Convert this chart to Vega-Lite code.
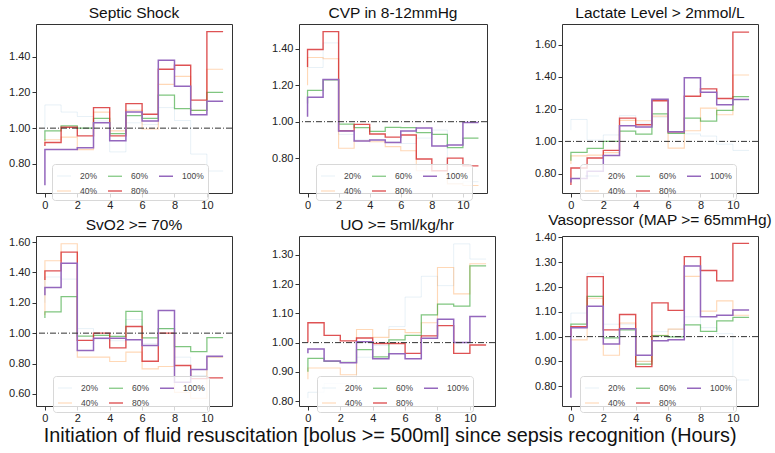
{
  "$schema": "https://vega.github.io/schema/vega-lite/v6.json",
  "padding": {"left": 8, "top": 5, "right": 0, "bottom": 0},
  "title": {"text": "Initiation of fluid resuscitation [bolus >= 500ml] since sepsis recognition (Hours)", "orient": "bottom", "fontSize": 19.8, "offset": 2, "anchor": "middle", "color": "#111"},
  "data": {"values": [
    {"p":"A","s":"20%","x":0,"y":0.98},{"p":"A","s":"20%","x":1,"y":1.13},{"p":"A","s":"20%","x":2,"y":1.09},{"p":"A","s":"20%","x":3,"y":1.065},{"p":"A","s":"20%","x":4,"y":1.04},{"p":"A","s":"20%","x":5,"y":0.867},{"p":"A","s":"20%","x":6,"y":1.03},{"p":"A","s":"20%","x":7,"y":1.02},{"p":"A","s":"20%","x":8,"y":1.115},{"p":"A","s":"20%","x":9,"y":1.043},{"p":"A","s":"20%","x":10,"y":0.855},{"p":"A","s":"20%","x":11,"y":0.76},
    {"p":"A","s":"40%","x":0,"y":0.92},{"p":"A","s":"40%","x":1,"y":0.935},{"p":"A","s":"40%","x":2,"y":0.95},{"p":"A","s":"40%","x":3,"y":0.88},{"p":"A","s":"40%","x":4,"y":1.09},{"p":"A","s":"40%","x":5,"y":0.985},{"p":"A","s":"40%","x":6,"y":1.10},{"p":"A","s":"40%","x":7,"y":0.995},{"p":"A","s":"40%","x":8,"y":1.245},{"p":"A","s":"40%","x":9,"y":1.29},{"p":"A","s":"40%","x":10,"y":1.10},{"p":"A","s":"40%","x":11,"y":1.33},
    {"p":"A","s":"60%","x":0,"y":0.93},{"p":"A","s":"60%","x":1,"y":0.985},{"p":"A","s":"60%","x":2,"y":1.013},{"p":"A","s":"60%","x":3,"y":1.0},{"p":"A","s":"60%","x":4,"y":1.055},{"p":"A","s":"60%","x":5,"y":0.97},{"p":"A","s":"60%","x":6,"y":1.07},{"p":"A","s":"60%","x":7,"y":1.055},{"p":"A","s":"60%","x":8,"y":1.185},{"p":"A","s":"60%","x":9,"y":1.11},{"p":"A","s":"60%","x":10,"y":1.10},{"p":"A","s":"60%","x":11,"y":1.20},
    {"p":"A","s":"80%","x":0,"y":0.90},{"p":"A","s":"80%","x":1,"y":0.92},{"p":"A","s":"80%","x":2,"y":1.005},{"p":"A","s":"80%","x":3,"y":0.957},{"p":"A","s":"80%","x":4,"y":1.115},{"p":"A","s":"80%","x":5,"y":0.957},{"p":"A","s":"80%","x":6,"y":1.137},{"p":"A","s":"80%","x":7,"y":1.078},{"p":"A","s":"80%","x":8,"y":1.33},{"p":"A","s":"80%","x":9,"y":1.352},{"p":"A","s":"80%","x":10,"y":1.157},{"p":"A","s":"80%","x":11,"y":1.54},
    {"p":"A","s":"100%","x":0,"y":0.68},{"p":"A","s":"100%","x":1,"y":0.88},{"p":"A","s":"100%","x":2,"y":0.88},{"p":"A","s":"100%","x":3,"y":0.89},{"p":"A","s":"100%","x":4,"y":1.03},{"p":"A","s":"100%","x":5,"y":0.93},{"p":"A","s":"100%","x":6,"y":1.09},{"p":"A","s":"100%","x":7,"y":1.04},{"p":"A","s":"100%","x":8,"y":1.38},{"p":"A","s":"100%","x":9,"y":1.235},{"p":"A","s":"100%","x":10,"y":1.075},{"p":"A","s":"100%","x":11,"y":1.15},

    {"p":"B","s":"20%","x":0,"y":1.30},{"p":"B","s":"20%","x":1,"y":1.298},{"p":"B","s":"20%","x":2,"y":1.433},{"p":"B","s":"20%","x":3,"y":0.93},{"p":"B","s":"20%","x":4,"y":0.90},{"p":"B","s":"20%","x":5,"y":0.90},{"p":"B","s":"20%","x":6,"y":0.89},{"p":"B","s":"20%","x":7,"y":0.88},{"p":"B","s":"20%","x":8,"y":0.91},{"p":"B","s":"20%","x":9,"y":0.954},{"p":"B","s":"20%","x":10,"y":0.66},{"p":"B","s":"20%","x":11,"y":0.67},
    {"p":"B","s":"40%","x":0,"y":1.20},{"p":"B","s":"40%","x":1,"y":1.353},{"p":"B","s":"40%","x":2,"y":1.346},{"p":"B","s":"40%","x":3,"y":0.854},{"p":"B","s":"40%","x":4,"y":0.895},{"p":"B","s":"40%","x":5,"y":0.89},{"p":"B","s":"40%","x":6,"y":0.863},{"p":"B","s":"40%","x":7,"y":0.84},{"p":"B","s":"40%","x":8,"y":0.73},{"p":"B","s":"40%","x":9,"y":0.73},{"p":"B","s":"40%","x":10,"y":0.658},{"p":"B","s":"40%","x":11,"y":0.649},
    {"p":"B","s":"60%","x":0,"y":1.10},{"p":"B","s":"60%","x":1,"y":1.172},{"p":"B","s":"60%","x":2,"y":1.23},{"p":"B","s":"60%","x":3,"y":0.987},{"p":"B","s":"60%","x":4,"y":0.967},{"p":"B","s":"60%","x":5,"y":0.947},{"p":"B","s":"60%","x":6,"y":0.969},{"p":"B","s":"60%","x":7,"y":0.967},{"p":"B","s":"60%","x":8,"y":0.94},{"p":"B","s":"60%","x":9,"y":0.93},{"p":"B","s":"60%","x":10,"y":0.857},{"p":"B","s":"60%","x":11,"y":0.909},
    {"p":"B","s":"80%","x":0,"y":1.30},{"p":"B","s":"80%","x":1,"y":1.397},{"p":"B","s":"80%","x":2,"y":1.495},{"p":"B","s":"80%","x":3,"y":0.95},{"p":"B","s":"80%","x":4,"y":0.985},{"p":"B","s":"80%","x":5,"y":0.932},{"p":"B","s":"80%","x":6,"y":0.915},{"p":"B","s":"80%","x":7,"y":0.927},{"p":"B","s":"80%","x":8,"y":0.795},{"p":"B","s":"80%","x":9,"y":0.73},{"p":"B","s":"80%","x":10,"y":0.80},{"p":"B","s":"80%","x":11,"y":0.757},
    {"p":"B","s":"100%","x":0,"y":1.027},{"p":"B","s":"100%","x":1,"y":1.135},{"p":"B","s":"100%","x":2,"y":1.232},{"p":"B","s":"100%","x":3,"y":0.949},{"p":"B","s":"100%","x":4,"y":0.894},{"p":"B","s":"100%","x":5,"y":0.90},{"p":"B","s":"100%","x":6,"y":0.885},{"p":"B","s":"100%","x":7,"y":0.949},{"p":"B","s":"100%","x":8,"y":0.965},{"p":"B","s":"100%","x":9,"y":0.867},{"p":"B","s":"100%","x":10,"y":0.872},{"p":"B","s":"100%","x":11,"y":0.995},

    {"p":"C","s":"20%","x":0,"y":1.07},{"p":"C","s":"20%","x":1,"y":1.136},{"p":"C","s":"20%","x":2,"y":1.008},{"p":"C","s":"20%","x":3,"y":1.04},{"p":"C","s":"20%","x":4,"y":1.16},{"p":"C","s":"20%","x":5,"y":1.113},{"p":"C","s":"20%","x":6,"y":1.15},{"p":"C","s":"20%","x":7,"y":1.05},{"p":"C","s":"20%","x":8,"y":1.047},{"p":"C","s":"20%","x":9,"y":1.033},{"p":"C","s":"20%","x":10,"y":0.983},{"p":"C","s":"20%","x":11,"y":0.944},
    {"p":"C","s":"40%","x":0,"y":0.86},{"p":"C","s":"40%","x":1,"y":0.91},{"p":"C","s":"40%","x":2,"y":0.915},{"p":"C","s":"40%","x":3,"y":0.93},{"p":"C","s":"40%","x":4,"y":1.13},{"p":"C","s":"40%","x":5,"y":1.128},{"p":"C","s":"40%","x":6,"y":1.157},{"p":"C","s":"40%","x":7,"y":0.958},{"p":"C","s":"40%","x":8,"y":1.066},{"p":"C","s":"40%","x":9,"y":1.206},{"p":"C","s":"40%","x":10,"y":1.165},{"p":"C","s":"40%","x":11,"y":1.412},
    {"p":"C","s":"60%","x":0,"y":0.88},{"p":"C","s":"60%","x":1,"y":0.932},{"p":"C","s":"60%","x":2,"y":0.957},{"p":"C","s":"60%","x":3,"y":1.0},{"p":"C","s":"60%","x":4,"y":1.064},{"p":"C","s":"60%","x":5,"y":1.045},{"p":"C","s":"60%","x":6,"y":1.171},{"p":"C","s":"60%","x":7,"y":1.05},{"p":"C","s":"60%","x":8,"y":1.144},{"p":"C","s":"60%","x":9,"y":1.126},{"p":"C","s":"60%","x":10,"y":1.192},{"p":"C","s":"60%","x":11,"y":1.278},
    {"p":"C","s":"80%","x":0,"y":0.73},{"p":"C","s":"80%","x":1,"y":0.835},{"p":"C","s":"80%","x":2,"y":0.897},{"p":"C","s":"80%","x":3,"y":0.944},{"p":"C","s":"80%","x":4,"y":1.144},{"p":"C","s":"80%","x":5,"y":1.103},{"p":"C","s":"80%","x":6,"y":1.252},{"p":"C","s":"80%","x":7,"y":1.06},{"p":"C","s":"80%","x":8,"y":1.28},{"p":"C","s":"80%","x":9,"y":1.326},{"p":"C","s":"80%","x":10,"y":1.266},{"p":"C","s":"80%","x":11,"y":1.678},
    {"p":"C","s":"100%","x":0,"y":0.745},{"p":"C","s":"100%","x":1,"y":0.77},{"p":"C","s":"100%","x":2,"y":0.815},{"p":"C","s":"100%","x":3,"y":0.913},{"p":"C","s":"100%","x":4,"y":1.097},{"p":"C","s":"100%","x":5,"y":1.089},{"p":"C","s":"100%","x":6,"y":1.262},{"p":"C","s":"100%","x":7,"y":1.06},{"p":"C","s":"100%","x":8,"y":1.394},{"p":"C","s":"100%","x":9,"y":1.305},{"p":"C","s":"100%","x":10,"y":1.227},{"p":"C","s":"100%","x":11,"y":1.26},

    {"p":"D","s":"20%","x":0,"y":1.20},{"p":"D","s":"20%","x":1,"y":1.37},{"p":"D","s":"20%","x":2,"y":1.356},{"p":"D","s":"20%","x":3,"y":1.03},{"p":"D","s":"20%","x":4,"y":0.96},{"p":"D","s":"20%","x":5,"y":0.95},{"p":"D","s":"20%","x":6,"y":1.09},{"p":"D","s":"20%","x":7,"y":0.93},{"p":"D","s":"20%","x":8,"y":1.03},{"p":"D","s":"20%","x":9,"y":0.842},{"p":"D","s":"20%","x":10,"y":0.72},{"p":"D","s":"20%","x":11,"y":0.84},
    {"p":"D","s":"40%","x":0,"y":1.12},{"p":"D","s":"40%","x":1,"y":1.477},{"p":"D","s":"40%","x":2,"y":1.589},{"p":"D","s":"40%","x":3,"y":0.842},{"p":"D","s":"40%","x":4,"y":0.842},{"p":"D","s":"40%","x":5,"y":0.813},{"p":"D","s":"40%","x":6,"y":0.875},{"p":"D","s":"40%","x":7,"y":0.765},{"p":"D","s":"40%","x":8,"y":0.78},{"p":"D","s":"40%","x":9,"y":0.61},{"p":"D","s":"40%","x":10,"y":0.571},{"p":"D","s":"40%","x":11,"y":0.842},
    {"p":"D","s":"60%","x":0,"y":1.10},{"p":"D","s":"60%","x":1,"y":1.14},{"p":"D","s":"60%","x":2,"y":1.24},{"p":"D","s":"60%","x":3,"y":0.98},{"p":"D","s":"60%","x":4,"y":0.985},{"p":"D","s":"60%","x":5,"y":0.978},{"p":"D","s":"60%","x":6,"y":1.143},{"p":"D","s":"60%","x":7,"y":0.969},{"p":"D","s":"60%","x":8,"y":1.029},{"p":"D","s":"60%","x":9,"y":0.912},{"p":"D","s":"60%","x":10,"y":0.879},{"p":"D","s":"60%","x":11,"y":0.971},
    {"p":"D","s":"80%","x":0,"y":1.35},{"p":"D","s":"80%","x":1,"y":1.41},{"p":"D","s":"80%","x":2,"y":1.534},{"p":"D","s":"80%","x":3,"y":0.952},{"p":"D","s":"80%","x":4,"y":1.0},{"p":"D","s":"80%","x":5,"y":0.903},{"p":"D","s":"80%","x":6,"y":1.044},{"p":"D","s":"80%","x":7,"y":0.815},{"p":"D","s":"80%","x":8,"y":1.0},{"p":"D","s":"80%","x":9,"y":0.787},{"p":"D","s":"80%","x":10,"y":0.70},{"p":"D","s":"80%","x":11,"y":0.705},
    {"p":"D","s":"100%","x":0,"y":1.25},{"p":"D","s":"100%","x":1,"y":1.30},{"p":"D","s":"100%","x":2,"y":1.46},{"p":"D","s":"100%","x":3,"y":0.886},{"p":"D","s":"100%","x":4,"y":0.967},{"p":"D","s":"100%","x":5,"y":0.967},{"p":"D","s":"100%","x":6,"y":0.956},{"p":"D","s":"100%","x":7,"y":0.919},{"p":"D","s":"100%","x":8,"y":1.15},{"p":"D","s":"100%","x":9,"y":0.677},{"p":"D","s":"100%","x":10,"y":0.76},{"p":"D","s":"100%","x":11,"y":0.848},

    {"p":"E","s":"20%","x":0,"y":0.81},{"p":"E","s":"20%","x":1,"y":0.83},{"p":"E","s":"20%","x":2,"y":0.86},{"p":"E","s":"20%","x":3,"y":0.86},{"p":"E","s":"20%","x":4,"y":0.95},{"p":"E","s":"20%","x":5,"y":0.99},{"p":"E","s":"20%","x":6,"y":1.055},{"p":"E","s":"20%","x":7,"y":1.156},{"p":"E","s":"20%","x":8,"y":1.227},{"p":"E","s":"20%","x":9,"y":1.195},{"p":"E","s":"20%","x":10,"y":1.338},{"p":"E","s":"20%","x":11,"y":1.286},
    {"p":"E","s":"40%","x":0,"y":0.875},{"p":"E","s":"40%","x":1,"y":0.913},{"p":"E","s":"40%","x":2,"y":0.913},{"p":"E","s":"40%","x":3,"y":0.89},{"p":"E","s":"40%","x":4,"y":1.045},{"p":"E","s":"40%","x":5,"y":1.018},{"p":"E","s":"40%","x":6,"y":1.045},{"p":"E","s":"40%","x":7,"y":1.034},{"p":"E","s":"40%","x":8,"y":1.068},{"p":"E","s":"40%","x":9,"y":1.257},{"p":"E","s":"40%","x":10,"y":1.167},{"p":"E","s":"40%","x":11,"y":1.27},
    {"p":"E","s":"60%","x":0,"y":0.90},{"p":"E","s":"60%","x":1,"y":0.946},{"p":"E","s":"60%","x":2,"y":0.936},{"p":"E","s":"60%","x":3,"y":0.932},{"p":"E","s":"60%","x":4,"y":0.976},{"p":"E","s":"60%","x":5,"y":0.951},{"p":"E","s":"60%","x":6,"y":1.009},{"p":"E","s":"60%","x":7,"y":1.025},{"p":"E","s":"60%","x":8,"y":1.095},{"p":"E","s":"60%","x":9,"y":1.132},{"p":"E","s":"60%","x":10,"y":1.125},{"p":"E","s":"60%","x":11,"y":1.263},
    {"p":"E","s":"80%","x":0,"y":1.0},{"p":"E","s":"80%","x":1,"y":1.068},{"p":"E","s":"80%","x":2,"y":1.025},{"p":"E","s":"80%","x":3,"y":1.006},{"p":"E","s":"80%","x":4,"y":1.016},{"p":"E","s":"80%","x":5,"y":0.997},{"p":"E","s":"80%","x":6,"y":0.997},{"p":"E","s":"80%","x":7,"y":0.963},{"p":"E","s":"80%","x":8,"y":1.023},{"p":"E","s":"80%","x":9,"y":1.058},{"p":"E","s":"80%","x":10,"y":0.963},{"p":"E","s":"80%","x":11,"y":0.992},
    {"p":"E","s":"100%","x":0,"y":0.964},{"p":"E","s":"100%","x":1,"y":0.978},{"p":"E","s":"100%","x":2,"y":0.937},{"p":"E","s":"100%","x":3,"y":0.931},{"p":"E","s":"100%","x":4,"y":1.003},{"p":"E","s":"100%","x":5,"y":0.945},{"p":"E","s":"100%","x":6,"y":0.962},{"p":"E","s":"100%","x":7,"y":0.945},{"p":"E","s":"100%","x":8,"y":1.015},{"p":"E","s":"100%","x":9,"y":1.08},{"p":"E","s":"100%","x":10,"y":1.0},{"p":"E","s":"100%","x":11,"y":1.089},

    {"p":"F","s":"20%","x":0,"y":1.0},{"p":"F","s":"20%","x":1,"y":1.095},{"p":"F","s":"20%","x":2,"y":1.256},{"p":"F","s":"20%","x":3,"y":1.05},{"p":"F","s":"20%","x":4,"y":1.05},{"p":"F","s":"20%","x":5,"y":0.90},{"p":"F","s":"20%","x":6,"y":1.02},{"p":"F","s":"20%","x":7,"y":1.03},{"p":"F","s":"20%","x":8,"y":1.08},{"p":"F","s":"20%","x":9,"y":1.036},{"p":"F","s":"20%","x":10,"y":1.012},{"p":"F","s":"20%","x":11,"y":0.825},
    {"p":"F","s":"40%","x":0,"y":0.99},{"p":"F","s":"40%","x":1,"y":0.987},{"p":"F","s":"40%","x":2,"y":1.155},{"p":"F","s":"40%","x":3,"y":0.925},{"p":"F","s":"40%","x":4,"y":1.055},{"p":"F","s":"40%","x":5,"y":0.90},{"p":"F","s":"40%","x":6,"y":1.005},{"p":"F","s":"40%","x":7,"y":1.03},{"p":"F","s":"40%","x":8,"y":1.243},{"p":"F","s":"40%","x":9,"y":1.103},{"p":"F","s":"40%","x":10,"y":1.144},{"p":"F","s":"40%","x":11,"y":1.086},
    {"p":"F","s":"60%","x":0,"y":1.04},{"p":"F","s":"60%","x":1,"y":1.05},{"p":"F","s":"60%","x":2,"y":1.162},{"p":"F","s":"60%","x":3,"y":0.995},{"p":"F","s":"60%","x":4,"y":1.027},{"p":"F","s":"60%","x":5,"y":0.889},{"p":"F","s":"60%","x":6,"y":1.004},{"p":"F","s":"60%","x":7,"y":0.999},{"p":"F","s":"60%","x":8,"y":1.047},{"p":"F","s":"60%","x":9,"y":1.021},{"p":"F","s":"60%","x":10,"y":1.064},{"p":"F","s":"60%","x":11,"y":1.078},
    {"p":"F","s":"80%","x":0,"y":1.0},{"p":"F","s":"80%","x":1,"y":1.04},{"p":"F","s":"80%","x":2,"y":1.242},{"p":"F","s":"80%","x":3,"y":1.027},{"p":"F","s":"80%","x":4,"y":1.089},{"p":"F","s":"80%","x":5,"y":0.879},{"p":"F","s":"80%","x":6,"y":1.136},{"p":"F","s":"80%","x":7,"y":1.106},{"p":"F","s":"80%","x":8,"y":1.323},{"p":"F","s":"80%","x":9,"y":1.267},{"p":"F","s":"80%","x":10,"y":1.225},{"p":"F","s":"80%","x":11,"y":1.376},
    {"p":"F","s":"100%","x":0,"y":0.753},{"p":"F","s":"100%","x":1,"y":1.036},{"p":"F","s":"100%","x":2,"y":1.123},{"p":"F","s":"100%","x":3,"y":0.97},{"p":"F","s":"100%","x":4,"y":1.032},{"p":"F","s":"100%","x":5,"y":0.925},{"p":"F","s":"100%","x":6,"y":0.983},{"p":"F","s":"100%","x":7,"y":0.987},{"p":"F","s":"100%","x":8,"y":1.285},{"p":"F","s":"100%","x":9,"y":1.08},{"p":"F","s":"100%","x":10,"y":1.086},{"p":"F","s":"100%","x":11,"y":1.107}
  ]},
  "columns": 3,
  "spacing": {"column": 67, "row": 43},
  "bounds": "flush",
  "align": "each",
  "resolve": {"scale": {"color": "independent", "strokeWidth": "independent"}, "legend": {"color": "independent", "strokeWidth": "independent"}},
  "concat": [
    {
      "title": "Septic Shock", "width": 196, "height": 169,
      "layer": [
        {
          "transform": [{"filter": "datum.p === 'A'"}],
          "mark": {"type": "line", "interpolate": "step-before"},
          "encoding": {
            "x": {"field": "x", "type": "quantitative", "title": null, "scale": {"domain": [-0.55, 11.55], "nice": false, "zero": false}, "axis": {"values": [0, 2, 4, 6, 8, 10], "tickCount": 20, "format": "d"}},
            "y": {"field": "y", "type": "quantitative", "title": null, "scale": {"domain": [0.637, 1.583], "nice": false, "zero": false}, "axis": {"values": [0.8, 1.0, 1.2, 1.4], "tickCount": 20, "format": ".2f"}},
            "color": {"field": "s", "type": "nominal", "scale": {"domain": ["20%", "40%", "60%", "80%", "100%"], "range": ["rgba(31,119,180,0.1)", "rgba(255,127,14,0.3)", "rgba(44,160,44,0.6)", "rgba(214,39,40,0.8)", "#9467bd"]}, "legend": {"title": null, "orient": "none", "legendX": 16, "legendY": 140}},
            "strokeWidth": {"field": "s", "type": "nominal", "scale": {"domain": ["20%", "40%", "60%", "80%", "100%"], "range": [1, 1.5, 1.5, 2, 3]}, "legend": {"title": null, "orient": "none", "legendX": 16, "legendY": 140}}
          }
        },
        {"data": {"values": [{}]}, "mark": {"type": "rule", "color": "#333", "strokeWidth": 1, "strokeDash": [6, 2, 1, 2]}, "encoding": {"y": {"datum": 1}}}
      ]
    },
    {
      "title": "CVP in 8-12mmHg", "width": 188, "height": 169,
      "layer": [
        {
          "transform": [{"filter": "datum.p === 'B'"}],
          "mark": {"type": "line", "interpolate": "step-before"},
          "encoding": {
            "x": {"field": "x", "type": "quantitative", "title": null, "scale": {"domain": [-0.55, 11.55], "nice": false, "zero": false}, "axis": {"values": [0, 2, 4, 6, 8, 10], "tickCount": 20, "format": "d"}},
            "y": {"field": "y", "type": "quantitative", "title": null, "scale": {"domain": [0.608, 1.537], "nice": false, "zero": false}, "axis": {"values": [0.8, 1.0, 1.2, 1.4], "tickCount": 20, "format": ".2f"}},
            "color": {"field": "s", "type": "nominal", "scale": {"domain": ["20%", "40%", "60%", "80%", "100%"], "range": ["rgba(31,119,180,0.1)", "rgba(255,127,14,0.3)", "rgba(44,160,44,0.6)", "rgba(214,39,40,0.8)", "#9467bd"]}, "legend": {"title": null, "orient": "none", "legendX": 17, "legendY": 140}},
            "strokeWidth": {"field": "s", "type": "nominal", "scale": {"domain": ["20%", "40%", "60%", "80%", "100%"], "range": [1, 1.5, 1.5, 2, 3]}, "legend": {"title": null, "orient": "none", "legendX": 17, "legendY": 140}}
          }
        },
        {"data": {"values": [{}]}, "mark": {"type": "rule", "color": "#333", "strokeWidth": 1, "strokeDash": [6, 2, 1, 2]}, "encoding": {"y": {"datum": 1}}}
      ]
    },
    {
      "title": "Lactate Level > 2mmol/L", "width": 196, "height": 169,
      "layer": [
        {
          "transform": [{"filter": "datum.p === 'C'"}],
          "mark": {"type": "line", "interpolate": "step-before"},
          "encoding": {
            "x": {"field": "x", "type": "quantitative", "title": null, "scale": {"domain": [-0.55, 11.55], "nice": false, "zero": false}, "axis": {"values": [0, 2, 4, 6, 8, 10], "tickCount": 20, "format": "d"}},
            "y": {"field": "y", "type": "quantitative", "title": null, "scale": {"domain": [0.68, 1.728], "nice": false, "zero": false}, "axis": {"values": [0.8, 1.0, 1.2, 1.4, 1.6], "tickCount": 20, "format": ".2f"}},
            "color": {"field": "s", "type": "nominal", "scale": {"domain": ["20%", "40%", "60%", "80%", "100%"], "range": ["rgba(31,119,180,0.1)", "rgba(255,127,14,0.3)", "rgba(44,160,44,0.6)", "rgba(214,39,40,0.8)", "#9467bd"]}, "legend": {"title": null, "orient": "none", "legendX": 18, "legendY": 140}},
            "strokeWidth": {"field": "s", "type": "nominal", "scale": {"domain": ["20%", "40%", "60%", "80%", "100%"], "range": [1, 1.5, 1.5, 2, 3]}, "legend": {"title": null, "orient": "none", "legendX": 18, "legendY": 140}}
          }
        },
        {"data": {"values": [{}]}, "mark": {"type": "rule", "color": "#333", "strokeWidth": 1, "strokeDash": [6, 2, 1, 2]}, "encoding": {"y": {"datum": 1}}}
      ]
    },
    {
      "title": "SvO2 >= 70%", "width": 196, "height": 170,
      "layer": [
        {
          "transform": [{"filter": "datum.p === 'D'"}],
          "mark": {"type": "line", "interpolate": "step-before"},
          "encoding": {
            "x": {"field": "x", "type": "quantitative", "title": null, "scale": {"domain": [-0.55, 11.55], "nice": false, "zero": false}, "axis": {"values": [0, 2, 4, 6, 8, 10], "tickCount": 20, "format": "d"}},
            "y": {"field": "y", "type": "quantitative", "title": null, "scale": {"domain": [0.52, 1.64], "nice": false, "zero": false}, "axis": {"values": [0.6, 0.8, 1.0, 1.2, 1.4, 1.6], "tickCount": 20, "format": ".2f"}},
            "color": {"field": "s", "type": "nominal", "scale": {"domain": ["20%", "40%", "60%", "80%", "100%"], "range": ["rgba(31,119,180,0.1)", "rgba(255,127,14,0.3)", "rgba(44,160,44,0.6)", "rgba(214,39,40,0.8)", "#9467bd"]}, "legend": {"title": null, "orient": "none", "legendX": 17, "legendY": 140}},
            "strokeWidth": {"field": "s", "type": "nominal", "scale": {"domain": ["20%", "40%", "60%", "80%", "100%"], "range": [1, 1.5, 1.5, 2, 3]}, "legend": {"title": null, "orient": "none", "legendX": 17, "legendY": 140}}
          }
        },
        {"data": {"values": [{}]}, "mark": {"type": "rule", "color": "#333", "strokeWidth": 1, "strokeDash": [6, 2, 1, 2]}, "encoding": {"y": {"datum": 1}}}
      ]
    },
    {
      "title": "UO >= 5ml/kg/hr", "width": 196, "height": 170,
      "layer": [
        {
          "transform": [{"filter": "datum.p === 'E'"}],
          "mark": {"type": "line", "interpolate": "step-before"},
          "encoding": {
            "x": {"field": "x", "type": "quantitative", "title": null, "scale": {"domain": [-0.55, 11.55], "nice": false, "zero": false}, "axis": {"values": [0, 2, 4, 6, 8, 10], "tickCount": 20, "format": "d"}},
            "y": {"field": "y", "type": "quantitative", "title": null, "scale": {"domain": [0.783, 1.365], "nice": false, "zero": false}, "axis": {"values": [0.8, 0.9, 1.0, 1.1, 1.2, 1.3], "tickCount": 20, "format": ".2f"}},
            "color": {"field": "s", "type": "nominal", "scale": {"domain": ["20%", "40%", "60%", "80%", "100%"], "range": ["rgba(31,119,180,0.1)", "rgba(255,127,14,0.3)", "rgba(44,160,44,0.6)", "rgba(214,39,40,0.8)", "#9467bd"]}, "legend": {"title": null, "orient": "none", "legendX": 18, "legendY": 140}},
            "strokeWidth": {"field": "s", "type": "nominal", "scale": {"domain": ["20%", "40%", "60%", "80%", "100%"], "range": [1, 1.5, 1.5, 2, 3]}, "legend": {"title": null, "orient": "none", "legendX": 18, "legendY": 140}}
          }
        },
        {"data": {"values": [{}]}, "mark": {"type": "rule", "color": "#333", "strokeWidth": 1, "strokeDash": [6, 2, 1, 2]}, "encoding": {"y": {"datum": 1}}}
      ]
    },
    {
      "title": "Vasopressor (MAP >= 65mmHg)", "width": 196, "height": 170,
      "layer": [
        {
          "transform": [{"filter": "datum.p === 'F'"}],
          "mark": {"type": "line", "interpolate": "step-before"},
          "encoding": {
            "x": {"field": "x", "type": "quantitative", "title": null, "scale": {"domain": [-0.55, 11.55], "nice": false, "zero": false}, "axis": {"values": [0, 2, 4, 6, 8, 10], "tickCount": 20, "format": "d"}},
            "y": {"field": "y", "type": "quantitative", "title": null, "scale": {"domain": [0.72, 1.406], "nice": false, "zero": false}, "axis": {"values": [0.8, 0.9, 1.0, 1.1, 1.2, 1.3, 1.4], "tickCount": 20, "format": ".2f"}},
            "color": {"field": "s", "type": "nominal", "scale": {"domain": ["20%", "40%", "60%", "80%", "100%"], "range": ["rgba(31,119,180,0.1)", "rgba(255,127,14,0.3)", "rgba(44,160,44,0.6)", "rgba(214,39,40,0.8)", "#9467bd"]}, "legend": {"title": null, "orient": "none", "legendX": 18, "legendY": 140}},
            "strokeWidth": {"field": "s", "type": "nominal", "scale": {"domain": ["20%", "40%", "60%", "80%", "100%"], "range": [1, 1.5, 1.5, 2, 3]}, "legend": {"title": null, "orient": "none", "legendX": 18, "legendY": 140}}
          }
        },
        {"data": {"values": [{}]}, "mark": {"type": "rule", "color": "#333", "strokeWidth": 1, "strokeDash": [6, 2, 1, 2]}, "encoding": {"y": {"datum": 1}}}
      ]
    }
  ],
  "config": {
    "font": "Liberation Sans",
    "view": {"stroke": "#333", "strokeWidth": 1},
    "axis": {"grid": false, "domain": false, "ticks": true, "tickColor": "#333", "tickSize": 4, "labelFontSize": 11, "labelColor": "#222", "labelPadding": 2, "labelOverlap": false},
    "title": {"fontSize": 15.5, "fontWeight": "normal", "color": "#111", "offset": 3},
    "legend": {"columns": 3, "symbolType": "stroke", "symbolSize": 196, "labelFontSize": 8.5, "labelColor": "#444", "labelOffset": 8, "columnPadding": 7, "rowPadding": 2, "padding": 4, "fillColor": "rgba(255,255,255,0.8)", "strokeColor": "#d8d8d8", "cornerRadius": 3}
  }
}
